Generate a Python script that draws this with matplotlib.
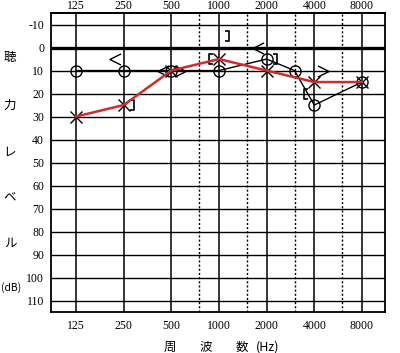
import matplotlib
matplotlib.use('Agg')
import matplotlib.pyplot as plt
from matplotlib.path import Path
from matplotlib.transforms import offset_copy

plt.rcParams['axes.unicode_minus'] = False

# axis layout
freqs = [125, 250, 500, 1000, 2000, 4000, 8000]
freq_labels = ['125', '250', '500', '1000', '2000', '4000', '8000']
half_freqs = [750, 1500, 3000, 6000]
levels = list(range(-10, 111, 10))

# right ear air conduction (O)
right_air_f = [125, 250, 500, 1000, 2000, 3000, 4000, 8000]
right_air_db = [10, 10, 10, 10, 5, 10, 25, 15]
# left ear air conduction (X)
left_air_f = [125, 250, 500, 1000, 2000, 4000, 8000]
left_air_db = [30, 25, 10, 5, 10, 15, 15]
# bone conduction
rbone_f = [250, 500, 2000]
rbone_db = [5, 10, 0]
lbone_f = [500, 4000]
lbone_db = [10, 10]
rbone_m_f = [1000, 4000]
rbone_m_db = [5, 20]
lbone_m_f = [250, 1000, 2000]
lbone_m_db = [25, -5, 5]

# marker shapes
lt = Path([(1, 1), (-1, 0), (1, -1)])
gt = Path([(-1, 1), (1, 0), (-1, -1)])
lbr = Path([(0.5, 1), (-0.5, 1), (-0.5, -1), (0.5, -1)])
rbr = Path([(-0.5, 1), (0.5, 1), (0.5, -1), (-0.5, -1)])

fig = plt.figure(figsize=(4.0, 3.53), dpi=100)
ax = fig.add_axes([0.1275, 0.116, 0.835, 0.847])
ax.set_xscale('log', base=2)
ax.set_xlim(87, 11180)
ax.set_ylim(115, -15)

for f in freqs:
    ax.axvline(f, color='black', lw=1.1, zorder=1)
for f in half_freqs:
    ax.axvline(f, color='black', lw=1.0, ls=(0, (1.5, 1.5)), zorder=1)
for l in levels:
    ax.axhline(l, color='black', lw=2.4 if l == 0 else 1.0, zorder=1)

ax.set_xticks(freqs)
ax.set_xticklabels(freq_labels)
ax.minorticks_off()
ax.set_yticks(levels)
ax.tick_params(length=0, labelsize=8.5, pad=5)
ax.tick_params(axis='x', pad=6)

top = ax.secondary_xaxis('top')
top.set_xticks(freqs)
top.set_xticklabels(freq_labels)
top.minorticks_off()
top.tick_params(length=0, labelsize=8.5, pad=1)

for lab in ax.get_xticklabels() + ax.get_yticklabels() + top.get_xticklabels():
    lab.set_family('Liberation Serif')
for s in ax.spines.values():
    s.set_linewidth(1.3)
top.spines['top'].set_linewidth(1.3)

# right ear
ax.plot(right_air_f, right_air_db, color='black', lw=1.0, zorder=3)
ax.plot(right_air_f, right_air_db, ls='none', marker='o', ms=8, mfc='none',
        mec='black', mew=1.0, zorder=4)
# left ear
ax.plot(left_air_f, left_air_db, ls='none', marker='x', ms=8, mec='black',
        mew=1.0, zorder=4)
ax.plot(left_air_f, left_air_db, color='#d42a2a', lw=1.8, zorder=5)

left_off = offset_copy(ax.transData, fig=fig, x=-6, y=0, units='points')
right_off = offset_copy(ax.transData, fig=fig, x=6, y=0, units='points')
ax.plot(rbone_f, rbone_db, ls='none', marker=lt, ms=8, mfc='none', mec='black',
        mew=1.0, transform=left_off, zorder=4)
ax.plot(lbone_f, lbone_db, ls='none', marker=gt, ms=8, mfc='none', mec='black',
        mew=1.0, transform=right_off, zorder=4)
ax.plot(rbone_m_f, rbone_m_db, ls='none', marker=lbr, ms=7, mfc='none', mec='black',
        mew=1.2, transform=left_off, zorder=4)
ax.plot(lbone_m_f, lbone_m_db, ls='none', marker=rbr, ms=7, mfc='none', mec='black',
        mew=1.2, transform=right_off, zorder=4)

jp = ['Noto Sans CJK JP', 'DejaVu Sans']
for ch, y in zip(['聴', '力', 'レ', 'ベ', 'ル'], [57, 105, 152, 197, 243]):
    fig.text(10 / 400, 1 - y / 353, ch, family=jp, fontsize=9, ha='center', va='center')
fig.text(1 / 400, 1 - 288 / 353, '(dB)', family=jp, fontsize=7.5, ha='left', va='center')
for ch, x in zip(['周', '波', '数', '(Hz)'], [170, 206, 242, 268]):
    fig.text(x / 400, 1 - 347 / 353, ch, family=jp, fontsize=9, ha='center', va='center')

fig.savefig('out.png', dpi=100)
